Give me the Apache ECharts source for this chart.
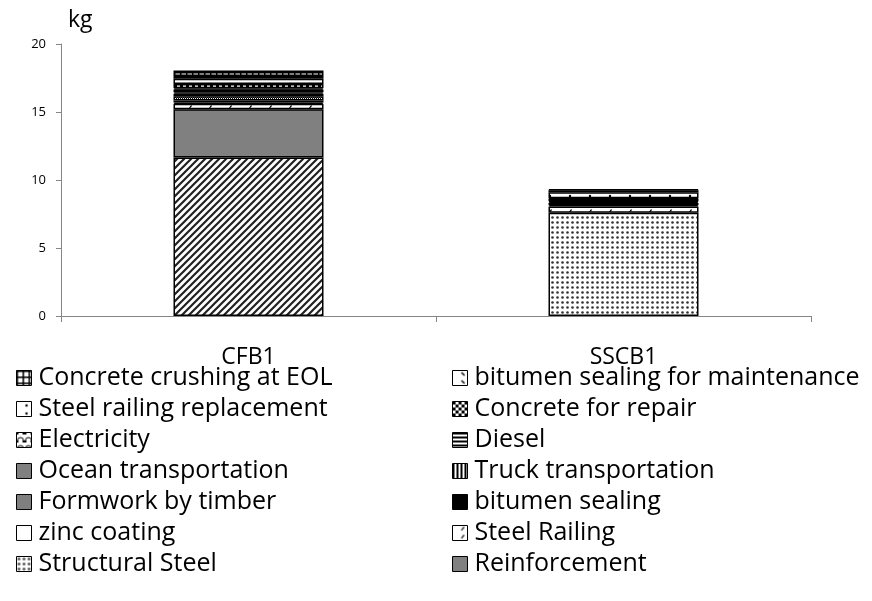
<!DOCTYPE html>
<html>
<head>
<meta charset="utf-8">
<script src="https://cdn.jsdelivr.net/npm/echarts@6/dist/echarts.min.js"></script>
<style>html,body{margin:0;padding:0;background:#fff}#c{width:872px;height:601px}</style>
</head>
<body>
<div id="c"></div>
<script>
// ---- data ----
const categories = ['CFB1', 'SSCB1'];
const yTicks = [0, 5, 10, 15, 20];
// stacked from bottom to top
const seriesNames = [
  'Concrete',
  'Reinforcement',
  'Structural Steel',
  'Steel Railing',
  'zinc coating',
  'bitumen sealing',
  'Formwork by timber',
  'Truck transportation',
  'Ocean transportation',
  'Diesel',
  'Electricity',
  'Concrete for repair',
  'Steel railing replacement',
  'bitumen sealing for maintenance',
  'Concrete crushing at EOL'
];
const cfb1Values  = [11.65, 3.55, 0, 0.40, 0.10, 0.15, 0.30, 0.20, 0.10, 0.20, 0.10, 0.30, 0.40, 0.20, 0.40];
const sscb1Values = [0, 0, 7.60, 0.45, 0.10, 0.15, 0, 0.10, 0.05, 0.15, 0.05, 0, 0.45, 0.15, 0.05];
const legendLeft  = ['Concrete crushing at EOL', 'Steel railing replacement', 'Electricity', 'Ocean transportation', 'Formwork by timber', 'zinc coating', 'Structural Steel'];
const legendRight = ['bitumen sealing for maintenance', 'Concrete for repair', 'Diesel', 'Truck transportation', 'bitumen sealing', 'Steel Railing', 'Reinforcement'];

// ---- patterns ----
function tile(w, h, draw) {
  const c = document.createElement('canvas');
  c.width = w; c.height = h;
  const g = c.getContext('2d');
  g.fillStyle = '#fff'; g.fillRect(0, 0, w, h);
  draw(g, w, h);
  return { image: c, repeat: 'repeat' };
}
const patterns = {
  'Concrete': tile(7, 7, (g) => {
    g.strokeStyle = '#222'; g.lineWidth = 2.2;
    g.beginPath();
    g.moveTo(-1, 8); g.lineTo(8, -1);
    g.moveTo(-5, 5); g.lineTo(5, -5);
    g.moveTo(2, 12); g.lineTo(12, 2);
    g.stroke();
  }),
  'Reinforcement': '#808080',
  'Structural Steel': tile(5, 5, (g) => {
    g.fillStyle = '#333';
    g.beginPath(); g.arc(2.5, 2.5, 1.3, 0, Math.PI * 2); g.fill();
  }),
  'Steel Railing': tile(20, 8, (g) => {
    g.strokeStyle = '#000'; g.lineWidth = 1.2;
    g.beginPath(); g.moveTo(9, 5); g.lineTo(11, 2); g.lineTo(12, 2); g.stroke();
  }),
  'zinc coating': '#ffffff',
  'bitumen sealing': '#000000',
  'Formwork by timber': tile(2, 2, (g) => {
    g.fillStyle = '#000'; g.fillRect(0, 0, 1, 1); g.fillRect(1, 1, 1, 1);
  }),
  'Truck transportation': tile(4, 4, (g) => {
    g.fillStyle = '#000'; g.fillRect(0, 0, 2, 4);
  }),
  'Ocean transportation': '#808080',
  'Diesel': tile(4, 4, (g) => {
    g.fillStyle = '#000'; g.fillRect(0, 0, 4, 2);
  }),
  'Electricity': tile(8, 8, (g) => {
    g.fillStyle = '#000';
    g.fillRect(0, 0, 2, 2); g.fillRect(6, 0, 2, 2);
    g.strokeStyle = '#000'; g.lineWidth = 1;
    g.beginPath(); g.arc(4, 8, 3, Math.PI, 0); g.stroke();
  }),
  'Concrete for repair': tile(6, 6, (g) => {
    g.fillStyle = '#000'; g.fillRect(0, 0, 3, 3); g.fillRect(3, 3, 3, 3);
  }),
  'Steel railing replacement': tile(20, 8, (g) => {
    g.fillStyle = '#000'; g.beginPath(); g.arc(10, 4, 1.2, 0, Math.PI * 2); g.fill();
  }),
  'bitumen sealing for maintenance': tile(20, 8, (g) => {
    g.strokeStyle = '#000'; g.lineWidth = 1.4;
    g.beginPath(); g.moveTo(9, 2); g.lineTo(12, 5); g.stroke();
  }),
  'Concrete crushing at EOL': tile(6, 6, (g) => {
    g.fillStyle = '#000'; g.fillRect(0, 0, 6, 1.5); g.fillRect(0, 0, 1.5, 6);
  })
};

const series = seriesNames.map((name, i) => ({
  name,
  type: 'bar',
  stack: 'total',
  barWidth: '40%',
  data: [cfb1Values[i], sscb1Values[i]].map(v => (v === 0 ? null : v)),
  itemStyle: { color: patterns[name], borderColor: '#000', borderWidth: 1.5 },
  emphasis: { disabled: true },
  animation: false
}));

const FONT = 'Open Sans';
const legendCommon = {
  orient: 'vertical',
  top: 360,
  itemWidth: 15,
  itemHeight: 15,
  itemGap: 5,
  icon: 'rect',
  selectedMode: false,
  itemStyle: { borderColor: '#000', borderWidth: 1 },
  textStyle: { fontFamily: FONT, fontSize: 25, color: '#000', lineHeight: 26, padding: [0, 0, 0, 2] }
};

const chart = echarts.init(document.getElementById('c'), null, { renderer: 'canvas' });
chart.setOption({
  backgroundColor: '#fff',
  animation: false,
  title: {
    text: 'kg', left: 63, top: 4,
    textStyle: { fontFamily: FONT, fontSize: 23, fontWeight: 'normal', color: '#000' }
  },
  grid: { left: 61, right: 61, top: 44, bottom: 285, containLabel: false },
  legend: [
    Object.assign({}, legendCommon, { left: 11, data: legendLeft }),
    Object.assign({}, legendCommon, { left: 447, data: legendRight })
  ],
  xAxis: {
    type: 'category',
    data: categories,
    axisLine: { lineStyle: { color: '#868686', width: 1 } },
    axisTick: { show: true, length: 6, lineStyle: { color: '#868686' } },
    axisLabel: { fontFamily: FONT, fontSize: 23, color: '#000', margin: 30 },
    splitLine: { show: false }
  },
  yAxis: {
    type: 'value',
    min: yTicks[0],
    max: yTicks[yTicks.length - 1],
    interval: yTicks[1] - yTicks[0],
    axisLine: { show: true, lineStyle: { color: '#868686', width: 1 } },
    axisTick: { show: true, length: 5, lineStyle: { color: '#868686' } },
    axisLabel: { fontFamily: FONT, fontSize: 13, color: '#000', margin: 15 },
    splitLine: { show: false }
  },
  series
});
</script>
</body>
</html>
